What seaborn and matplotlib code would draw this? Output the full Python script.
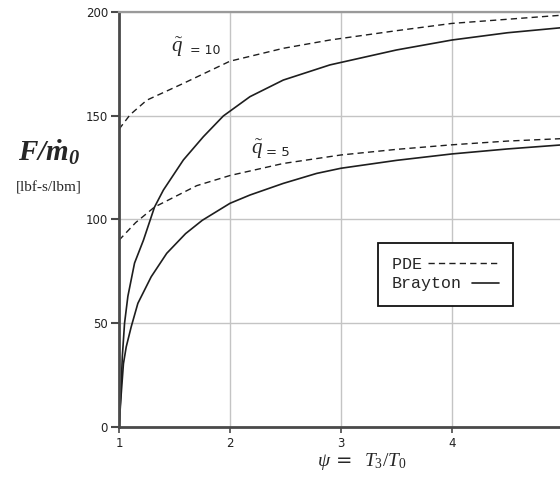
import numpy as np
import pandas as pd
import matplotlib
matplotlib.use("Agg")
import matplotlib.pyplot as plt
import seaborn as sns
from matplotlib.legend_handler import HandlerLine2D

# values: psi = T3/T0, specific thrust F/m0 [lbf-s/lbm]
psi_pde10 = [1.0, 1.1, 1.25, 1.58, 2.0, 2.48, 2.9, 3.5, 4.0, 4.5, 5.0]
pde_q10 = [143.5, 150.5, 157.5, 165.6, 176.3, 182.5, 186.5, 191, 194.5, 196.5, 198.5]

psi_pde5 = [1.0, 1.15, 1.32, 1.7, 2.0, 2.48, 3.0, 3.5, 4.0, 4.5, 5.0]
pde_q5 = [90, 98.5, 106, 116.3, 121.2, 127, 131.1, 133.8, 136, 137.8, 139]

psi_bray10 = [1.0, 1.015, 1.03, 1.05, 1.08, 1.14, 1.22, 1.32, 1.40, 1.58, 1.76, 1.94, 2.18, 2.48, 2.9, 3.5, 4.0, 4.5, 5.0]
bray_q10 = [0, 14.5, 34, 50, 63, 79, 90, 106, 114.2, 128.7, 139.9, 149.9, 159.2, 167.2, 174.5, 181.7, 186.5, 190, 192.5]

psi_bray5 = [1.0, 1.02, 1.04, 1.065, 1.11, 1.17, 1.29, 1.43, 1.60, 1.75, 2.0, 2.18, 2.48, 2.78, 3.0, 3.5, 4.0, 4.5, 5.0]
bray_q5 = [0, 16, 30.5, 38.6, 48.3, 59.6, 72.4, 83.7, 93.2, 99.6, 107.8, 111.8, 117.4, 122.2, 124.7, 128.5, 131.6, 134, 136]

x_ticks = [1, 2, 3, 4, 5]
y_ticks = [0, 50, 100, 150, 200]

sns.set_style("white")
plt.rcParams["font.family"] = ["DejaVu Sans"]
plt.rcParams["mathtext.fontset"] = "custom"
plt.rcParams["mathtext.rm"] = "Liberation Serif"
plt.rcParams["mathtext.it"] = "Liberation Serif:italic"
plt.rcParams["mathtext.bf"] = "Liberation Serif:bold:italic"

fig = plt.figure(figsize=(5.6, 4.88), dpi=100)
ax = fig.add_axes([119 / 560, 61 / 488, 444 / 560, 415 / 488])

line_col = "#1e1e1e"
dash = (0, (4.5, 3))

sns.lineplot(x=psi_pde10, y=pde_q10, ax=ax, color=line_col, linewidth=1.0, linestyle=dash, label="PDE    ")
sns.lineplot(x=psi_pde5, y=pde_q5, ax=ax, color=line_col, linewidth=1.0, linestyle=dash)
sns.lineplot(x=psi_bray10, y=bray_q10, ax=ax, color=line_col, linewidth=1.2, label="Brayton")
sns.lineplot(x=psi_bray5, y=bray_q5, ax=ax, color=line_col, linewidth=1.2)

ax.set_xlim(1, 5)
ax.set_ylim(0, 200)
ax.set_xticks(x_ticks)
ax.set_yticks(y_ticks)
ax.grid(True, color="#c4c4c4", linewidth=1.0)
ax.set_axisbelow(True)

for side in ["left", "bottom"]:
    ax.spines[side].set_color("#4a4a4a")
    ax.spines[side].set_linewidth(2.0)
ax.spines["top"].set_color("#9a9a9a")
ax.spines["top"].set_linewidth(1.6)
ax.spines["right"].set_color("#9a9a9a")

ax.tick_params(axis="y", direction="out", length=6, width=1.5, color="#4a4a4a",
               labelsize=8.5, pad=2, left=True, labelcolor="#222222")
ax.tick_params(axis="x", direction="out", length=4, width=1.2, color="#4a4a4a",
               labelsize=8.5, pad=3, bottom=True, labelcolor="#222222")


# legend: text first, the PDE dashes run back towards its label
class ExtendLeft(HandlerLine2D):
    def __init__(self, ext, **kw):
        super().__init__(**kw)
        self.ext = ext

    def create_artists(self, legend, orig_handle, xdescent, ydescent, width, height, fontsize, trans):
        return super().create_artists(legend, orig_handle, xdescent + self.ext, ydescent,
                                      width + self.ext, height, fontsize, trans)


handles, labels = ax.get_legend_handles_labels()
leg = ax.legend(handles, labels, loc="upper left", bbox_to_anchor=(0.583, 0.443),
                borderaxespad=0, markerfirst=False, handlelength=1.62, handletextpad=0.6,
                labelspacing=0.25, borderpad=0.85, fancybox=False, framealpha=1,
                edgecolor="#111111", prop={"family": "Liberation Mono", "size": 12},
                handler_map={handles[0]: ExtendLeft(32)})
leg.get_frame().set_linewidth(1.3)

# curve labels
ax.text(1.52, 183, r"$\tilde{q}$", fontsize=15, ha="center", va="center")
ax.text(1.64, 181.5, "= 10", fontsize=9, ha="left", va="center", color="#222222")
ax.text(2.24, 134, r"$\tilde{q}$", fontsize=15, ha="center", va="center")
ax.text(2.32, 132.5, "= 5", fontsize=9.5, ha="left", va="center", color="#222222")

# axis titles
ax.set_xlabel(r"$\psi$ =  $T_3/T_0$", fontsize=14)
ax.xaxis.set_label_coords(0.547, -0.058)
ax.set_ylabel("")
fig.text(49 / 560, 1 - 152 / 488, r"$\mathbf{F/\dot{m}_0}$", fontsize=21, ha="center", va="center")
fig.text(49 / 560, 1 - 188 / 488, "[lbf-s/lbm]", fontsize=11, ha="center", va="center",
         family="Liberation Serif")

fig.savefig("out.png", dpi=100)
